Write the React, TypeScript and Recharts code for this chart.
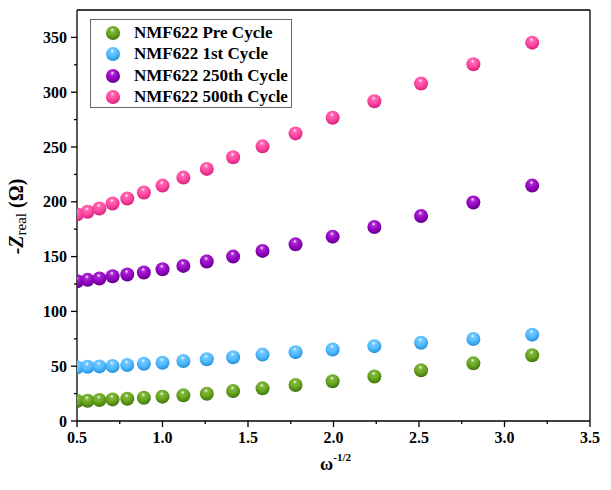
import { ScatterChart, Scatter, XAxis, YAxis, ReferenceLine } from "recharts";

const xValues = [0.501, 0.562, 0.631, 0.708, 0.794, 0.891, 1.0, 1.122, 1.259, 1.413, 1.585, 1.778, 1.995, 2.239, 2.512, 2.818, 3.162];
const preCycle = [18.2, 18.5, 19.1, 19.7, 20.3, 21.2, 22.2, 23.4, 24.9, 27.4, 29.8, 32.9, 36.3, 40.6, 46.2, 52.6, 60.0];
const firstCycle = [48.9, 49.5, 49.8, 50.2, 51.1, 52.3, 53.2, 54.8, 56.3, 58.2, 60.6, 62.8, 65.2, 68.3, 71.4, 74.8, 78.8];
const cycle250 = [127.5, 128.8, 130.0, 132.1, 133.6, 135.5, 138.5, 141.5, 145.5, 150.0, 155.2, 161.2, 168.2, 177.0, 187.0, 199.4, 214.8];
const cycle500 = [188.5, 190.9, 193.9, 198.5, 203.0, 208.5, 214.8, 222.1, 230.0, 240.6, 250.6, 262.4, 276.7, 291.8, 307.9, 325.5, 345.2];

const seriesNames = ["NMF622 Pre Cycle", "NMF622 1st Cycle", "NMF622 250th Cycle", "NMF622 500th Cycle"];
const xTicks = [0.5, 0.75, 1.0, 1.25, 1.5, 1.75, 2.0, 2.25, 2.5, 2.75, 3.0, 3.25, 3.5];
const yTicks = [0, 25, 50, 75, 100, 125, 150, 175, 200, 225, 250, 275, 300, 325, 350];

const COLORS = ["#6aa81c", "#55bcff", "#9a05c8", "#ff4aa3"];
const DARK = ["#3f7410", "#2290dd", "#62008a", "#d8207a"];

const FONT = '"Liberation Serif", "Times New Roman", serif';

const toPoints = (ys: number[]) => xValues.map((x, i) => ({ x, y: ys[i] }));
const series = [preCycle, firstCycle, cycle250, cycle500].map(toPoints);

function Ball({ cx, cy, idx, r = 7 }: { cx: number; cy: number; idx: number; r?: number }) {
  const id = `ball-${idx}`;
  return (
    <g>
      <defs>
        <radialGradient id={id} cx="45%" cy="35%" r="65%" fx="45%" fy="28%">
          <stop offset="0%" stopColor="#ffffff" />
          <stop offset="22%" stopColor={COLORS[idx]} stopOpacity={0.85} />
          <stop offset="55%" stopColor={COLORS[idx]} />
          <stop offset="100%" stopColor={DARK[idx]} />
        </radialGradient>
      </defs>
      <circle cx={cx} cy={cy} r={r} fill={`url(#${id})`} />
    </g>
  );
}

const XTick = (props: any) => {
  const { x, y, payload } = props;
  const v = payload.value;
  const major = Math.abs(v * 2 - Math.round(v * 2)) < 1e-6;
  return (
    <g>
      <line x1={x} y1={y} x2={x} y2={y + (major ? 6 : 3)} stroke="#000" strokeWidth={1.3} />
      {major && (
        <text x={x} y={y + 22} textAnchor="middle" fontFamily={FONT} fontWeight="bold" fontSize={16} fill="#000">
          {v.toFixed(1)}
        </text>
      )}
    </g>
  );
};

const YTick = (props: any) => {
  const { x, y, payload } = props;
  const v = payload.value;
  const major = v % 50 === 0;
  return (
    <g>
      <line x1={x} y1={y} x2={x - (major ? 6 : 3)} y2={y} stroke="#000" strokeWidth={1.3} />
      {major && (
        <text x={x - 10} y={y + 5.5} textAnchor="end" fontFamily={FONT} fontWeight="bold" fontSize={16} fill="#000">
          {v}
        </text>
      )}
    </g>
  );
};

const YLabel = (props: any) => {
  const vb = props.viewBox;
  const cx = 23;
  const cy = vb.y + vb.height / 2 + 1;
  return (
    <text
      x={cx}
      y={cy}
      transform={`rotate(-90 ${cx} ${cy})`}
      textAnchor="middle"
      fontFamily={FONT}
      fontWeight="bold"
      fontSize={20}
      fill="#000"
    >
      <tspan fontStyle="italic">-Z</tspan>
      <tspan fontSize={15} fontWeight="normal" dy={3}>real</tspan>
      <tspan dy={-3}> (Ω)</tspan>
    </text>
  );
};

const XLabel = (props: any) => {
  const vb = props.viewBox;
  const cx = vb.x + vb.width / 2 + 2;
  return (
    <text x={cx} y={470} textAnchor="middle" fontFamily={FONT} fontWeight="bold" fontSize={18} fill="#000">
      <tspan>ω</tspan>
      <tspan fontSize={11} dy={-9}>-1/2</tspan>
    </text>
  );
};

export default function App() {
  return (
    <div style={{ position: "absolute", left: 0, top: 0, width: 611, height: 490, background: "#fff" }}>
      <ScatterChart width={611} height={490} margin={{ top: 10, right: 21, bottom: 29, left: 0 }}>
        <XAxis
          type="number"
          dataKey="x"
          domain={[0.5, 3.5]}
          ticks={xTicks}
          interval={0}
          height={40}
          tickSize={0}
          tickMargin={0}
          tickLine={false}
          tick={<XTick />}
          axisLine={{ stroke: "#000", strokeWidth: 1.3 }}
          allowDataOverflow
          label={{ content: <XLabel /> }}
        />
        <YAxis
          type="number"
          dataKey="y"
          domain={[0, 375]}
          ticks={yTicks}
          interval={0}
          width={77}
          tickSize={0}
          tickMargin={0}
          tickLine={false}
          tick={<YTick />}
          axisLine={{ stroke: "#000", strokeWidth: 1.3 }}
          allowDataOverflow
          label={{ content: <YLabel /> }}
        />
        <ReferenceLine x={3.5} stroke="#000" strokeWidth={1.3} />
        <ReferenceLine y={375} stroke="#000" strokeWidth={1.3} />
        {series.map((data, idx) => (
          <Scatter
            key={seriesNames[idx]}
            name={seriesNames[idx]}
            data={data}
            fill={COLORS[idx]}
            isAnimationActive={false}
            shape={(p: any) => <Ball cx={p.cx} cy={p.cy} idx={idx} />}
          />
        ))}
      </ScatterChart>
      <div
        style={{
          position: "absolute",
          left: 90,
          top: 19,
          width: 202,
          height: 89,
          border: "1px solid #666",
          background: "#fff",
          boxSizing: "border-box",
          paddingTop: 2,
        }}
      >
        {seriesNames.map((name, idx) => (
          <div key={name} style={{ display: "flex", alignItems: "center", height: 21.5 }}>
            <svg width={16} height={16} style={{ marginLeft: 14 }}>
              <Ball cx={8} cy={8} idx={idx} r={7} />
            </svg>
            <span
              style={{
                marginLeft: 13,
                fontFamily: FONT,
                fontWeight: "bold",
                fontSize: 17,
                color: "#000",
                whiteSpace: "nowrap",
              }}
            >
              {name}
            </span>
          </div>
        ))}
      </div>
    </div>
  );
}
